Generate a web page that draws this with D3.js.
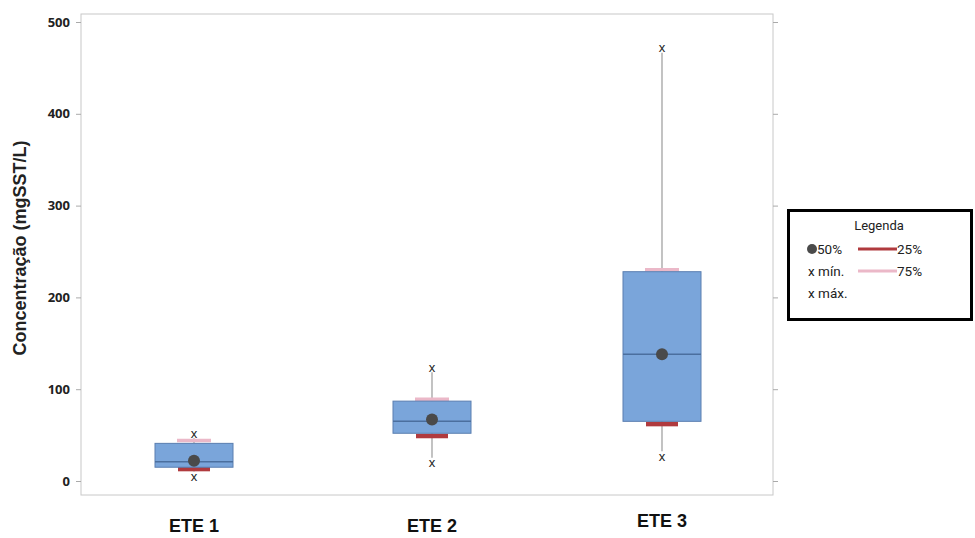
<!DOCTYPE html>
<html>
<head>
<meta charset="utf-8">
<script src="https://cdn.jsdelivr.net/npm/d3@7"></script>
<style>
  html, body { margin: 0; padding: 0; background: #fff; }
  svg { display: block; font-family: "Liberation Sans", Arial, sans-serif; }
</style>
</head>
<body>
<svg id="chart" width="975" height="538"></svg>
<script>
// Stations and their summary statistics (mgSST/L)
const categories = ["ETE 1", "ETE 2", "ETE 3"];
const minValues    = [5, 20, 27];
const maxValues    = [52, 124, 472];
const boxLow       = [15, 52, 65];
const boxHigh      = [41, 87, 228];
const medianLine   = [21, 65, 138];
const p50Values    = [22, 67, 138];
const p25Values    = [13, 49, 62];
const p75Values    = [44, 89, 230];
const yTicks       = [0, 100, 200, 300, 400, 500];

const svg = d3.select("#chart");

const frame = { left: 81, right: 773, top: 14, bottom: 495 };

const y = d3.scaleLinear().domain([0, 500]).range([481, 22]);
const x = d3.scaleOrdinal().domain(categories).range([194, 432, 662]);

const colors = {
  boxFill: "#7aa5da",
  boxStroke: "#5a7eb0",
  median: "#4b6f9e",
  dot: "#4a4a4a",
  p25: "#b03a3e",
  p75: "#ebb8c8",
  whisker: "#9a9a9a",
  frame: "#c8c8c8"
};

// Plot frame
svg.append("rect")
  .attr("x", frame.left).attr("y", frame.top)
  .attr("width", frame.right - frame.left)
  .attr("height", frame.bottom - frame.top)
  .attr("fill", "none").attr("stroke", colors.frame).attr("stroke-width", 1);

// Left axis
const leftAxis = svg.append("g")
  .attr("transform", `translate(${frame.left},0)`)
  .call(d3.axisLeft(y).tickValues(yTicks).tickSize(5).tickPadding(6));
leftAxis.select(".domain").remove();
leftAxis.selectAll("line").attr("stroke", "#aaa");
leftAxis.selectAll("text")
  .attr("fill", "#222").attr("font-size", 13).attr("font-weight", "bold")
  .attr("font-family", "'Open Sans', 'Liberation Sans', sans-serif");

// Right axis ticks (no labels)
const rightAxis = svg.append("g")
  .attr("transform", `translate(${frame.right},0)`)
  .call(d3.axisRight(y).tickValues(yTicks).tickSize(5).tickFormat(""));
rightAxis.select(".domain").remove();
rightAxis.selectAll("line").attr("stroke", "#aaa");

// Y title
svg.append("text")
  .attr("transform", "translate(26,248) rotate(-90)")
  .attr("text-anchor", "middle")
  .attr("font-size", 18).attr("font-weight", "bold").attr("fill", "#222")
  .text("Concentração (mgSST/L)");

// X category labels
svg.selectAll(".xlabel").data(categories).join("text")
  .attr("class", "xlabel")
  .attr("x", d => x(d))
  .attr("y", (d, i) => i === 2 ? 527 : 532)
  .attr("text-anchor", "middle")
  .attr("font-size", 18).attr("font-weight", "bold").attr("fill", "#111")
  .text(d => d);

const boxW = 78;
const barW = 16;
const stats = categories.map((c, i) => ({
  c, min: minValues[i], max: maxValues[i], lo: boxLow[i], hi: boxHigh[i],
  med: medianLine[i], p50: p50Values[i], p25: p25Values[i], p75: p75Values[i]
}));

const g = svg.append("g");

// Whiskers
g.selectAll(".wh-up").data(stats).join("line")
  .attr("x1", d => x(d.c)).attr("x2", d => x(d.c))
  .attr("y1", d => y(d.hi)).attr("y2", d => y(d.max) + 5)
  .attr("stroke", colors.whisker).attr("stroke-width", 1.2);
g.selectAll(".wh-dn").data(stats).join("line")
  .attr("x1", d => x(d.c)).attr("x2", d => x(d.c))
  .attr("y1", d => y(d.lo)).attr("y2", d => y(d.min) - 5)
  .attr("stroke", colors.whisker).attr("stroke-width", 1.2);

// 75% bars
g.selectAll(".p75").data(stats).join("line")
  .attr("x1", d => x(d.c) - barW - 1).attr("x2", d => x(d.c) + barW + 1)
  .attr("y1", d => y(d.p75)).attr("y2", d => y(d.p75))
  .attr("stroke", colors.p75).attr("stroke-width", 3.5);

// 25% bars
g.selectAll(".p25").data(stats).join("line")
  .attr("x1", d => x(d.c) - barW).attr("x2", d => x(d.c) + barW)
  .attr("y1", d => y(d.p25)).attr("y2", d => y(d.p25))
  .attr("stroke", colors.p25).attr("stroke-width", 4.5);

// Boxes
g.selectAll(".box").data(stats).join("rect")
  .attr("x", d => x(d.c) - boxW / 2)
  .attr("y", d => y(d.hi))
  .attr("width", boxW)
  .attr("height", d => y(d.lo) - y(d.hi))
  .attr("fill", colors.boxFill).attr("stroke", colors.boxStroke).attr("stroke-width", 1);

// Median lines
g.selectAll(".med").data(stats).join("line")
  .attr("x1", d => x(d.c) - boxW / 2).attr("x2", d => x(d.c) + boxW / 2)
  .attr("y1", d => y(d.med)).attr("y2", d => y(d.med))
  .attr("stroke", colors.median).attr("stroke-width", 1.5);

// 50% dots
g.selectAll(".dot").data(stats).join("circle")
  .attr("cx", d => x(d.c)).attr("cy", d => y(d.p50)).attr("r", 6)
  .attr("fill", colors.dot);

// Min / max markers
const xMark = (sel, key) => sel.data(stats).join("text")
  .attr("x", d => x(d.c)).attr("y", d => y(d[key]))
  .attr("dy", "0.35em")
  .attr("text-anchor", "middle")
  .attr("font-size", 13).attr("fill", "#222")
  .text("x");
xMark(g.selectAll(".mx"), "max");
xMark(g.selectAll(".mn"), "min");

// Legend
const font = "Roboto, 'Liberation Sans', sans-serif";
const lg = svg.append("g").attr("transform", "translate(787,209)");
lg.append("rect").attr("x", 1.5).attr("y", 1.5).attr("width", 183).attr("height", 109)
  .attr("fill", "#fff").attr("stroke", "#000").attr("stroke-width", 3);
lg.append("text").attr("x", 92).attr("y", 21).attr("text-anchor", "middle")
  .attr("font-size", 13).attr("fill", "#222")
  .attr("font-family", font).text("Legenda");

const lt = (xx, yy, t) => lg.append("text").attr("x", xx).attr("y", yy)
  .attr("font-size", 13.5).attr("fill", "#222")
  .attr("font-family", font).text(t);
lg.append("circle").attr("cx", 25).attr("cy", 40).attr("r", 5).attr("fill", colors.dot);
lt(30, 45, "50%");
lt(21, 67, "x mín.");
lt(21, 89, "x máx.");
lg.append("line").attr("x1", 71).attr("x2", 110).attr("y1", 40).attr("y2", 40)
  .attr("stroke", colors.p25).attr("stroke-width", 3);
lt(110, 45, "25%");
lg.append("line").attr("x1", 71).attr("x2", 110).attr("y1", 62).attr("y2", 62)
  .attr("stroke", colors.p75).attr("stroke-width", 3);
lt(110, 67, "75%");
</script>
</body>
</html>
